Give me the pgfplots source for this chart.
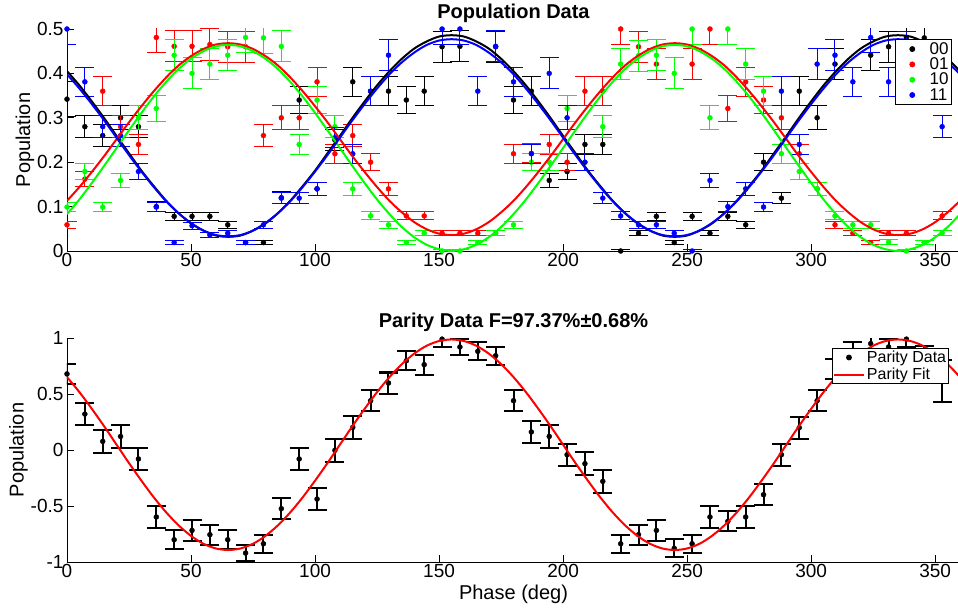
\documentclass[border=0pt]{standalone}
\usepackage{fontspec}
\setmainfont{Liberation Sans}
\usepackage{pgfplots}
\usepackage{pgfplotstable}
\pgfplotsset{compat=1.18}

% fitted curves, every 5 deg
\pgfplotstableread{
th b r g u p
0 .405 .113 .083 .398 .651
5 .373 .144 .116 .366 .517
10 .337 .178 .153 .331 .368
15 .299 .214 .192 .294 .211
20 .259 .252 .232 .255 .047
25 .220 .290 .272 .216 -.117
30 .181 .326 .311 .179 -.274
35 .146 .360 .348 .144 -.423
40 .113 .391 .381 .112 -.557
45 .085 .418 .410 .085 -.673
50 .062 .439 .433 .063 -.767
55 .046 .455 .450 .046 -.837
60 .035 .465 .461 .036 -.879
65 .032 .468 .464 .033 -.893
70 .035 .465 .461 .036 -.879
75 .046 .455 .450 .046 -.837
80 .062 .439 .433 .063 -.767
85 .085 .418 .410 .085 -.673
90 .113 .391 .381 .112 -.557
95 .146 .360 .348 .144 -.423
100 .181 .326 .311 .179 -.274
105 .220 .290 .272 .216 -.117
110 .259 .252 .232 .255 .047
115 .299 .214 .192 .294 .211
120 .337 .178 .153 .331 .368
125 .373 .144 .116 .366 .517
130 .405 .113 .083 .398 .651
135 .433 .087 .054 .425 .767
140 .456 .065 .031 .447 .861
145 .472 .049 .014 .464 .931
150 .483 .039 .004 .474 .973
155 .486 .036 .000 .477 .987
160 .483 .039 .004 .474 .973
165 .472 .049 .014 .464 .931
170 .456 .065 .031 .447 .861
175 .433 .087 .054 .425 .767
180 .405 .113 .083 .398 .651
185 .373 .144 .116 .366 .517
190 .337 .178 .153 .331 .368
195 .299 .214 .192 .294 .211
200 .259 .252 .232 .255 .047
205 .220 .290 .272 .216 -.117
210 .181 .326 .311 .179 -.274
215 .146 .360 .348 .144 -.423
220 .113 .391 .381 .112 -.557
225 .085 .418 .410 .085 -.673
230 .062 .439 .433 .063 -.767
235 .046 .455 .450 .046 -.837
240 .035 .465 .461 .036 -.879
245 .032 .468 .464 .033 -.893
250 .035 .465 .461 .036 -.879
255 .046 .455 .450 .046 -.837
260 .062 .439 .433 .063 -.767
265 .085 .418 .410 .085 -.673
270 .113 .391 .381 .112 -.557
275 .146 .360 .348 .144 -.423
280 .181 .326 .311 .179 -.274
285 .220 .290 .272 .216 -.117
290 .259 .252 .232 .255 .047
295 .299 .214 .192 .294 .211
300 .337 .178 .153 .331 .368
305 .373 .144 .116 .366 .517
310 .405 .113 .083 .398 .651
315 .433 .087 .054 .425 .767
320 .456 .065 .031 .447 .861
325 .472 .049 .014 .464 .931
330 .483 .039 .004 .474 .973
335 .486 .036 .000 .477 .987
340 .483 .039 .004 .474 .973
345 .472 .049 .014 .464 .931
350 .456 .065 .031 .447 .861
355 .433 .087 .054 .425 .767
360 .405 .113 .083 .398 .651
}\fits

\pgfplotstableread{
x y e
0 0.342 .040
7.2 0.280 .025
14.4 0.260 .024
21.6 0.300 .027
28.8 0.280 .025
36 0.100 .011
43.2 0.078 .009
50.4 0.078 .009
57.6 0.078 .009
64.8 0.059 .008
72 0.019 .005
79.2 0.019 .005
86.4 0.120 .013
93.6 0.340 .030
100.8 0.140 .014
108 0.250 .023
115.2 0.381 .033
122.4 0.360 .032
129.6 0.360 .032
136.8 0.340 .030
144 0.360 .032
151.2 0.460 .035
158.4 0.461 .035
172.8 0.460 .035
180 0.340 .030
187.2 0.360 .032
194.4 0.159 .016
201.6 0.179 .017
208.8 0.240 .022
216 0.240 .022
223.2 0.000 .003
230.4 0.040 .006
237.6 0.078 .009
244.8 0.019 .005
252 0.078 .009
259.2 0.040 .006
266.4 0.078 .009
273.6 0.059 .008
280.8 0.200 .019
288 0.119 .013
295.2 0.360 .032
302.4 0.300 .027
309.6 0.421 .035
324 0.441 .035
331.2 0.460 .035
338.4 0.480 .035
345.6 0.480 .035
352.8 0.420 .035
}\popA

\pgfplotstableread{
x y e
0 0.059 .008
7.2 0.162 .016
14.4 0.360 .032
21.6 0.280 .025
28.8 0.240 .022
36 0.481 .035
43.2 0.461 .035
50.4 0.461 .035
57.6 0.465 .035
64.8 0.460 .035
72 0.460 .035
79.2 0.260 .024
86.4 0.300 .027
93.6 0.300 .027
100.8 0.381 .033
108 0.219 .021
115.2 0.260 .024
122.4 0.200 .019
129.6 0.140 .014
136.8 0.079 .009
144 0.079 .009
151.2 0.040 .006
158.4 0.040 .006
165.6 0.040 .006
172.8 0.040 .006
180 0.219 .021
187.2 0.220 .021
194.4 0.240 .022
201.6 0.200 .019
208.8 0.360 .032
216 0.360 .032
223.2 0.500 .035
230.4 0.460 .035
237.6 0.421 .035
252 0.421 .035
259.2 0.500 .035
266.4 0.321 .029
273.6 0.381 .033
280.8 0.340 .030
288 0.300 .027
295.2 0.219 .021
302.4 0.140 .014
309.6 0.059 .008
316.8 0.040 .006
324 0.019 .005
331.2 0.040 .006
338.4 0.040 .006
345.6 0.019 .005
352.8 0.079 .009
}\popB

\pgfplotstableread{
x y e
0 0.099 .011
7.2 0.179 .017
14.4 0.099 .011
21.6 0.159 .016
28.8 0.300 .027
36 0.321 .029
43.2 0.441 .035
50.4 0.400 .035
57.6 0.421 .035
64.8 0.441 .035
72 0.481 .035
79.2 0.480 .035
86.4 0.461 .035
93.6 0.240 .022
100.8 0.340 .030
108 0.280 .025
115.2 0.140 .014
122.4 0.079 .009
129.6 0.059 .008
136.8 0.019 .005
144 0.040 .006
151.2 0.000 .003
158.4 0.000 .003
165.6 0.019 .005
172.8 0.040 .006
180 0.059 .008
187.2 0.200 .019
194.4 0.200 .019
201.6 0.321 .029
208.8 0.200 .019
216 0.280 .025
223.2 0.421 .035
230.4 0.440 .035
237.6 0.441 .035
244.8 0.400 .035
252 0.500 .035
259.2 0.300 .027
266.4 0.500 .035
273.6 0.421 .035
280.8 0.360 .032
288 0.219 .021
295.2 0.179 .017
302.4 0.140 .014
309.6 0.079 .009
316.8 0.059 .008
324 0.059 .008
331.2 0.020 .005
338.4 0.000 .003
345.6 0.019 .005
352.8 0.040 .006
}\popC

\pgfplotstableread{
x y e
0 0.500 .035
7.2 0.381 .033
14.4 0.280 .025
21.6 0.260 .024
28.8 0.179 .017
36 0.099 .011
43.2 0.019 .005
50.4 0.057 .008
57.6 0.036 .006
64.8 0.040 .006
72 0.019 .005
79.2 0.059 .008
86.4 0.119 .013
93.6 0.119 .013
100.8 0.140 .014
108 0.255 .023
115.2 0.219 .021
122.4 0.360 .032
129.6 0.441 .035
151.2 0.500 .035
158.4 0.500 .035
165.6 0.360 .032
172.8 0.461 .035
180 0.381 .033
187.2 0.219 .021
194.4 0.400 .035
201.6 0.300 .027
208.8 0.200 .019
216 0.119 .013
223.2 0.079 .009
230.4 0.059 .008
237.6 0.059 .008
244.8 0.040 .006
252 0.000 .003
259.2 0.159 .016
266.4 0.100 .011
273.6 0.140 .014
280.8 0.099 .011
288 0.360 .032
295.2 0.240 .022
302.4 0.421 .035
309.6 0.441 .035
316.8 0.381 .033
324 0.481 .035
331.2 0.381 .033
338.4 0.460 .035
345.6 0.440 .035
352.8 0.280 .025
}\popD

\pgfplotstableread{
x y e
0 0.679 .089
7.2 0.321 .10
14.4 0.077 .10
21.6 0.121 .10
28.8 -0.080 .10
36 -0.598 .094
43.2 -0.801 .085
50.4 -0.718 .09
57.6 -0.756 .09
64.8 -0.801 .085
72 -0.920 .075
79.2 -0.837 .08
86.4 -0.524 .094
93.6 -0.080 .10
100.8 -0.438 .095
108 -0.003 .10
115.2 0.202 .10
122.4 0.440 .095
129.6 0.598 .094
136.8 0.797 .085
144 0.762 .09
151.2 0.990 .07
158.4 0.920 .075
165.6 0.881 .08
172.8 0.842 .08
180 0.440 .095
187.2 0.161 .10
194.4 0.121 .10
201.6 -0.042 .10
208.8 -0.122 .10
216 -0.280 .10
223.2 -0.837 .08
230.4 -0.756 .09
237.6 -0.718 .09
244.8 -0.878 .08
252 -0.837 .08
259.2 -0.598 .094
266.4 -0.637 .09
273.6 -0.598 .094
280.8 -0.399 .095
288 -0.042 .10
295.2 0.199 .10
302.4 0.440 .095
309.6 0.720 .09
316.8 0.880 .08
324 0.950 .075
331.2 0.920 .075
338.4 0.990 .07
345.6 0.850 .08
352.8 0.615 .19
}\parity

\pgfplotsset{
  phase axis/.style={
    scale only axis, width=893bp,
    xmin=0, xmax=360, xtick={0,50,...,350},
    axis x line*=bottom, axis y line*=left,
    axis line style={line width=0.8bp},
    tick style={line width=0.8bp, black},
    major tick length=7bp,
    tick label style={font=\fontsize{19bp}{19bp}\selectfont},
    xticklabel style={yshift=1bp},
    label style={font=\fontsize{20bp}{20bp}\selectfont},
    ylabel shift=-4bp,
    title style={font=\fontsize{20bp}{20bp}\selectfont\bfseries, yshift=-3bp},
    /pgf/number format/assume math mode=true,
    clip mode=individual,
    legend cell align=left,
    legend image code/.code={\draw[mark repeat=2, mark phase=2, ##1]
      plot coordinates {(0bp,0bp) (15bp,0bp) (30bp,0bp)};},
  },
  dat/.style={only marks, mark=*, mark size=2.5bp, #1,
    legend image code/.code={\path (0bp,0bp) (30bp,0bp);
      \draw[##1] plot coordinates {(15bp,0bp)};},
    error bars/.cd, y dir=both, y explicit,
    error bar style={line width=1bp, #1},
    error mark options={rotate=90, line width=1bp, #1, mark size=9.5bp}},
  fit/.style={no marks, line width=2bp, #1, smooth},
}

\begin{document}
\begin{tikzpicture}
\begin{axis}[phase axis, at={(0,0)}, height=222bp,
  ymin=0, ymax=0.5, ytick={0,0.1,0.2,0.3,0.4,0.5},
  title={Population Data}, ylabel={Population},
  legend style={at={(0.991,0.955)}, anchor=north east,
    font=\fontsize{17bp}{17bp}\selectfont, draw=black, line width=0.8bp,
    row sep=-2bp, inner sep=1bp}]
  \addplot[dat=black] table[x=x, y=y, y error=e] {\popA};
  \addlegendentry{00}
  \addplot[dat=red] table[x=x, y=y, y error=e] {\popB};
  \addlegendentry{01}
  \addplot[dat=green] table[x=x, y=y, y error=e] {\popC};
  \addlegendentry{10}
  \addplot[dat=blue] table[x=x, y=y, y error=e] {\popD};
  \addlegendentry{11}
  \addplot[fit=black, forget plot] table[x=th, y=b] {\fits};
  \addplot[fit=red, forget plot] table[x=th, y=r] {\fits};
  \addplot[fit=green, forget plot] table[x=th, y=g] {\fits};
  \addplot[fit=blue, forget plot] table[x=th, y=u] {\fits};
\end{axis}

\begin{axis}[phase axis, at={(0,-311bp)}, height=224bp,
  ymin=-1, ymax=1, ytick={-1,-0.5,0,0.5,1},
  title={Parity Data F=97.37\%±0.68\%}, ylabel={Population},
  xlabel={Phase (deg)},
  legend style={at={(0.9877,0.955)}, anchor=north east,
    font=\fontsize{16bp}{16bp}\selectfont, draw=black, line width=0.8bp,
    row sep=0bp, inner sep=0.5bp}]
  \addplot[only marks, mark=*, mark size=2.5bp, black,
    error bars/.cd, y dir=both, y explicit,
    error bar style={line width=2bp, black},
    error mark options={rotate=90, line width=2bp, black, mark size=9.5bp}]
    table[x=x, y=y, y error=e] {\parity};
  \addlegendentry{Parity Data}
  \addplot[fit=red] table[x=th, y=p] {\fits};
  \addlegendentry{Parity Fit}
\end{axis}
\pgfresetboundingbox
\path[use as bounding box] (-67bp,-358bp) rectangle (891bp,251bp);
\end{tikzpicture}
\end{document}
